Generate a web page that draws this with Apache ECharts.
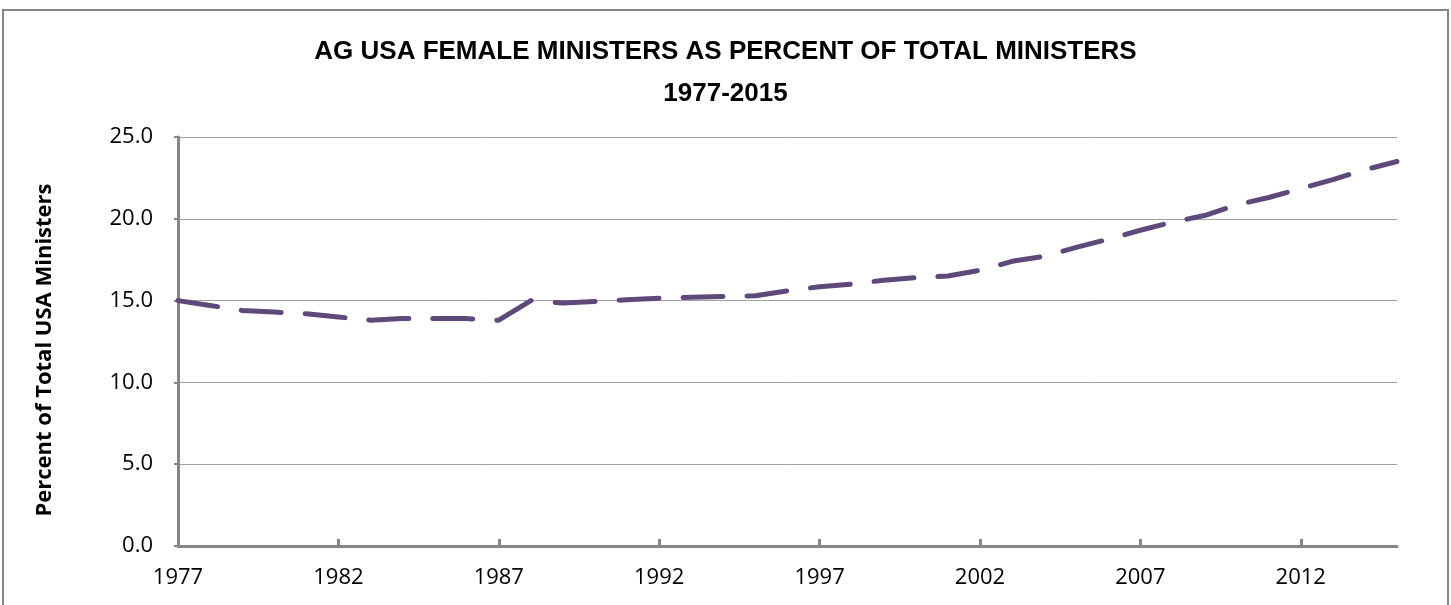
<!DOCTYPE html>
<html>
<head>
<meta charset="utf-8">
<script src="https://cdn.jsdelivr.net/npm/echarts@6/dist/echarts.min.js"></script>
<style>
  html, body { margin: 0; padding: 0; background: #fff; }
  #chart { width: 1451px; height: 605px; }
</style>
</head>
<body>
<div id="chart"></div>
<script>
// years shown on the x axis (category axis, one entry per year)
var years = [
  1977, 1978, 1979, 1980, 1981, 1982, 1983, 1984, 1985, 1986,
  1987, 1988, 1989, 1990, 1991, 1992, 1993, 1994, 1995, 1996,
  1997, 1998, 1999, 2000, 2001, 2002, 2003, 2004, 2005, 2006,
  2007, 2008, 2009, 2010, 2011, 2012, 2013, 2014, 2015
];
// female ministers as % of total
var femalePct = [
  15.0, 14.7, 14.4, 14.3, 14.2, 14.0, 13.8, 13.9, 13.9, 13.9,
  13.8, 15.0, 14.85, 14.95, 15.05, 15.15, 15.2, 15.25, 15.3, 15.6,
  15.85, 16.0, 16.25, 16.4, 16.5, 16.85, 17.4, 17.7, 18.25, 18.75,
  19.3, 19.8, 20.2, 20.85, 21.3, 21.85, 22.4, 23.0, 23.5
];
var yTicks = [0, 5, 10, 15, 20, 25];
var titleLines = ["AG USA FEMALE MINISTERS AS PERCENT OF TOTAL MINISTERS", "1977-2015"];
var yTitle = "Percent of Total USA Ministers";

var chart = echarts.init(document.getElementById("chart"));
var axisGrey = "#868686";
var font = "'Open Sans', 'Liberation Sans', sans-serif";
var titleStyle = {
  fontFamily: "'Liberation Sans', sans-serif",
  fontSize: 26,
  fontWeight: "bold",
  color: "#000"
};

var option = {
  animation: false,
  backgroundColor: "#fff",
  graphic: [
    {
      type: "rect",
      shape: { x: 3, y: 10, width: 1445, height: 640 },
      style: { fill: "none", stroke: axisGrey, lineWidth: 2 },
      silent: true
    },
    {
      // y axis title, rotated like Excel's
      type: "text",
      x: 45,
      y: 350,
      rotation: Math.PI / 2,
      style: {
        text: yTitle,
        fontFamily: font,
        fontSize: 22,
        fontWeight: "bold",
        fill: "#000",
        align: "center",
        verticalAlign: "middle"
      },
      silent: true
    }
  ],
  title: [
    { text: titleLines[0], left: "center", top: 39, padding: 0, textStyle: titleStyle },
    { text: titleLines[1], left: "center", top: 81, padding: 0, textStyle: titleStyle }
  ],
  grid: { left: 178, right: 54, top: 137, bottom: 59 },
  xAxis: {
    type: "category",
    data: years,
    boundaryGap: false,
    axisLine: { lineStyle: { color: axisGrey, width: 3 } },
    axisTick: { inside: true, length: 7, interval: 4, lineStyle: { color: axisGrey, width: 3 } },
    axisLabel: { interval: 4, margin: 21, fontFamily: font, fontSize: 22, color: "#000" },
    splitLine: { show: false }
  },
  yAxis: {
    type: "value",
    min: yTicks[0],
    max: yTicks[yTicks.length - 1],
    interval: 5,
    axisLine: { show: true, lineStyle: { color: axisGrey, width: 3 } },
    axisTick: { show: true, length: 4, lineStyle: { color: axisGrey, width: 2 } },
    axisLabel: {
      margin: 25,
      fontFamily: font,
      fontSize: 22,
      color: "#000",
      formatter: function (v) { return v.toFixed(1); }
    },
    splitLine: { lineStyle: { color: "#a0a0a0", width: 1 } }
  },
  series: [
    {
      type: "line",
      data: femalePct,
      symbol: "none",
      smooth: false,
      lineStyle: {
        color: "#5f497a",
        width: 5,
        type: [40, 24],
        cap: "round",
        join: "round"
      }
    }
  ]
};
chart.setOption(option);
</script>
</body>
</html>
